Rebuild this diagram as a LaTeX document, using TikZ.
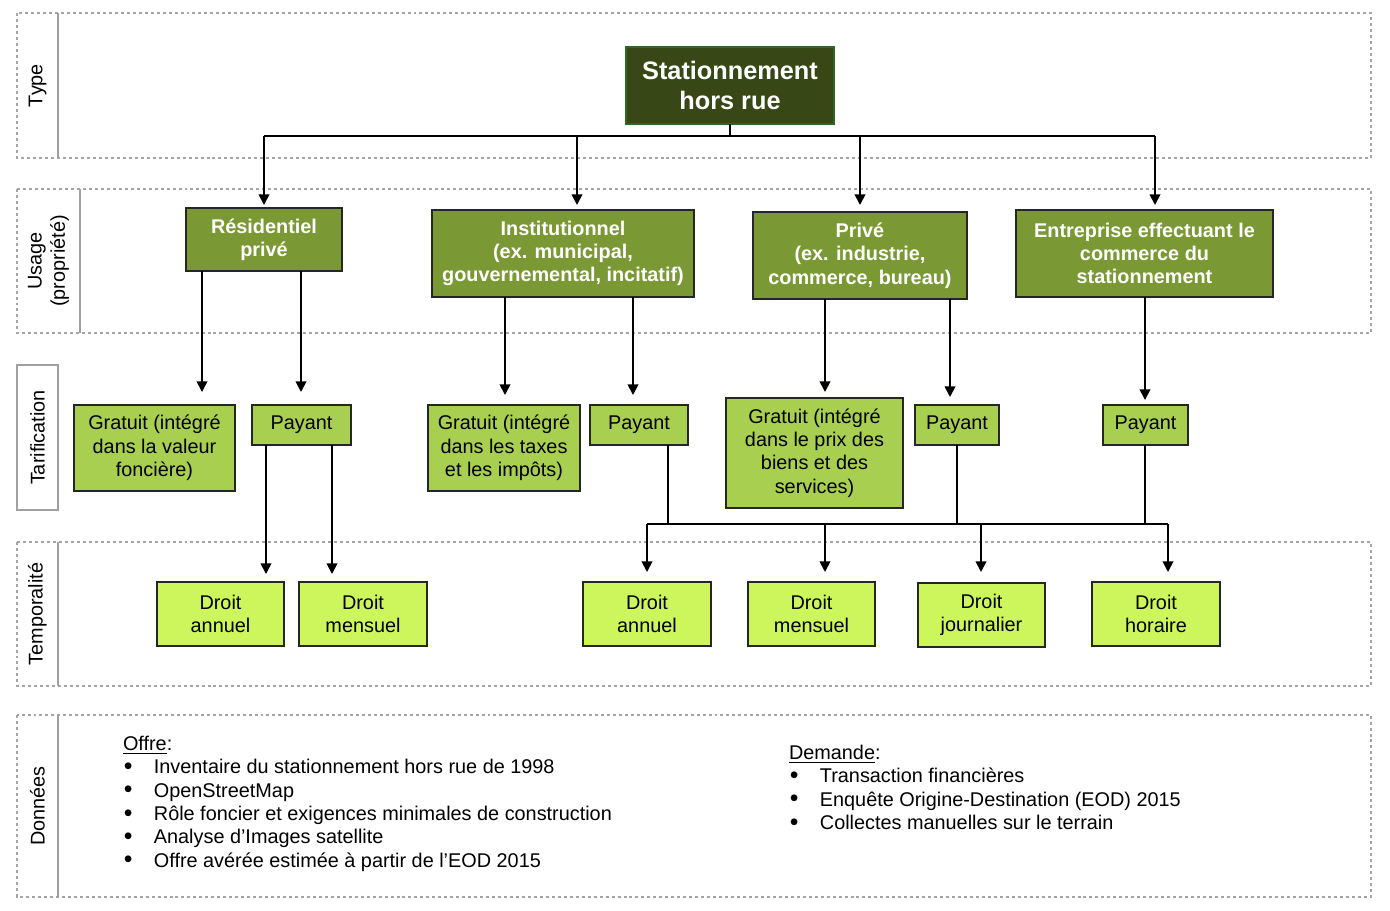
\documentclass[tikz,border=0pt]{standalone}
\usepackage{fontspec}
\setmainfont{Liberation Sans}
\usetikzlibrary{arrows.meta}
\definecolor{bandgray}{RGB}{165,165,165}
\definecolor{labgray}{RGB}{160,160,160}
\definecolor{topgreen}{RGB}{55,72,22}
\definecolor{topborder}{RGB}{45,105,35}
\definecolor{usegreen}{RGB}{122,153,52}
\definecolor{targreen}{RGB}{169,207,80}
\definecolor{drgreen}{RGB}{205,246,92}
\newcommand\myreg{\fontsize{11.3}{13.3}\selectfont}
\newcommand\mybold{\bfseries\fontsize{11.3}{13.3}\selectfont}
\newcommand\mytop{\bfseries\fontsize{14.4}{17}\selectfont}
\newcommand\mybul{\makebox[17.6pt][l]{\hspace{0.5pt}\smash{\raisebox{-0.3pt}{\scalebox{1.25}{•}}}}}
\begin{document}
\begin{tikzpicture}[x=0.02cm,y=-0.02cm,
  band/.style={draw=bandgray, line width=1.5pt, dash pattern=on 1.7pt off 1.7pt},
  labline/.style={draw=labgray, line width=1.1pt},
  lab/.style={rotate=90, inner sep=0pt, outer sep=0pt, font=\myreg, align=center},
  sz/.style 2 args={minimum width=#1*0.02cm, minimum height=#2*0.02cm},
  topbox/.style={draw=topborder, fill=topgreen, line width=1.1pt, text=white, font=\mytop, align=center, inner sep=0pt, outer sep=0pt},
  usebox/.style={draw=black!85, fill=usegreen, line width=1.1pt, text=white, font=\mybold, align=center, inner sep=0pt, outer sep=0pt},
  tarbox/.style={draw=black!85, fill=targreen, line width=1.1pt, font=\myreg, align=center, inner sep=0pt, outer sep=0pt},
  drbox/.style={draw=black!85, fill=drgreen, line width=1.1pt, font=\myreg, align=center, inner sep=0pt, outer sep=0pt},
  datatext/.style={font=\myreg, align=left, inner sep=0pt, outer sep=0pt},
  ln/.style={line width=1pt},
  arr/.style={line width=1pt, -{Triangle[width=6pt,length=6pt]}}
]
\useasboundingbox (0,0) rectangle (1390,910);

% bands
\draw[band] (17,13) rectangle (1371,158);
\draw[band] (17,189) rectangle (1371,333);
\draw[band] (17,542) rectangle (1371,686);
\draw[band] (17,715) rectangle (1371,897);

% band labels
\node[lab, sz={145}{41}] (ltype) at (37.5,85.5) {Type};
\node[lab, sz={144}{63}] (lusage) at (48.5,261) {Usage\\(propriété)};
\node[lab, sz={145}{41}, draw=labgray, line width=1.1pt] (ltarif) at (37.5,437.5) {Tarification};
\node[lab, sz={144}{41}] (ltemp) at (37.5,614) {Temporalité};
\node[lab, sz={182}{41}] (ldata) at (37.5,806) {Données};
\draw[labline] (ltype.south west) -- (ltype.south east);
\draw[labline] (lusage.south west) -- (lusage.south east);
\draw[labline] (ltemp.south west) -- (ltemp.south east);
\draw[labline] (ldata.south west) -- (ldata.south east);

% type
\node[topbox, sz={208}{77}] (top) at (730,85.5) {Stationnement\\hors rue};

% usage
\node[usebox, sz={156}{63}] (res) at (264,239.5) {Résidentiel\\privé};
\node[usebox, sz={262}{87}] (inst) at (563,253.5) {Institutionnel\\(ex. municipal,\\gouvernemental, incitatif)};
\node[usebox, sz={214}{87}] (prive) at (860,255.5) {Privé\\(ex. industrie,\\commerce, bureau)};
\node[usebox, sz={257}{87}] (entr) at (1144.5,253.5) {Entreprise effectuant le\\commerce du\\stationnement};

% tarification
\node[tarbox, sz={161}{86}] (g1) at (154.5,448) {Gratuit (intégré\\dans la valeur\\foncière)};
\node[tarbox, sz={99}{40}] (p1) at (301.5,425) {Payant};
\node[tarbox, sz={152}{86}] (g2) at (504,448) {Gratuit (intégré\\dans les taxes\\et les impôts)};
\node[tarbox, sz={98}{40}] (p2) at (639,425) {Payant};
\node[tarbox, sz={177}{110}] (g3) at (814.5,453) {Gratuit (intégré\\dans le prix des\\biens et des\\services)};
\node[tarbox, sz={84}{40}] (p3) at (957,425) {Payant};
\node[tarbox, sz={85}{40}] (p4) at (1145.5,425) {Payant};

% temporalite
\node[drbox, sz={127}{64}] (da1) at (220.5,614) {Droit\\annuel};
\node[drbox, sz={128}{64}] (dm1) at (363,614) {Droit\\mensuel};
\node[drbox, sz={128}{64}] (da2) at (647,614) {Droit\\annuel};
\node[drbox, sz={127}{64}] (dm2) at (811.5,614) {Droit\\mensuel};
\node[drbox, sz={127}{64}] (dj) at (981.5,615) {Droit\\journalier};
\node[drbox, sz={128}{64}] (dh) at (1156,614) {Droit\\horaire};

% connectors type -> usage
\coordinate (busL) at (264,136);
\coordinate (busR) at (1155,136);
\coordinate (b2) at (577,136);
\draw[ln] (top.south) -- (top.south |- busL);
\draw[ln] (busL) -- (busR);
\draw[arr, shorten >=0.06cm] (busL) -- (res.north);
\draw[arr, shorten >=0.1cm] (b2) -- (b2 |- inst.north);
\draw[arr, shorten >=0.14cm] (prive.north |- busL) -- (prive.north);
\draw[arr, shorten >=0.1cm] (busR) -- (busR |- entr.north);

% usage -> tarification
\coordinate (t1) at (202,392);
\coordinate (t2) at (301,392);
\coordinate (t3) at (505,395);
\coordinate (t4) at (633,395);
\coordinate (t5) at (825,392);
\coordinate (t6) at (950,397);
\coordinate (t7) at (1145,400);
\draw[arr] (res.south -| t1) -- (t1);
\draw[arr] (res.south -| t2) -- (t2);
\draw[arr] (inst.south -| t3) -- (t3);
\draw[arr] (inst.south -| t4) -- (t4);
\draw[arr] (prive.south -| t5) -- (t5);
\draw[arr] (prive.south -| t6) -- (t6);
\draw[arr] (entr.south -| t7) -- (t7);

% tarification -> temporalite
\coordinate (d1) at (266,574);
\coordinate (d2) at (332,574);
\draw[arr] (p1.south -| d1) -- (d1);
\draw[arr] (p1.south -| d2) -- (d2);
\coordinate (bus2L) at (647,524);
\coordinate (bus2R) at (1168,524);
\coordinate (k2) at (668,524);
\coordinate (k3) at (957,524);
\coordinate (k4) at (1145,524);
\coordinate (m2) at (825,524);
\coordinate (m3) at (981,524);
\draw[ln] (p2.south -| k2) -- (k2);
\draw[ln] (p3.south -| k3) -- (k3);
\draw[ln] (p4.south -| k4) -- (k4);
\draw[ln] (bus2L) -- (bus2R);
\draw[arr, shorten >=0.2cm] (bus2L) -- (bus2L |- da2.north);
\draw[arr, shorten >=0.2cm] (m2) -- (m2 |- dm2.north);
\draw[arr, shorten >=0.22cm] (m3) -- (m3 |- dj.north);
\draw[arr, shorten >=0.2cm] (bus2R) -- (bus2R |- dh.north);

% donnees
\node[datatext, anchor=north west] (offre) at (123,736) {\underline{Offre}:\\
\mybul Inventaire du stationnement hors rue de 1998\\
\mybul OpenStreetMap\\
\mybul Rôle foncier et exigences minimales de construction\\
\mybul Analyse d’Images satellite\\
\mybul Offre avérée estimée à partir de l’EOD 2015};
\node[datatext, anchor=north west] (demande) at (789,745) {\underline{Demande}:\\
\mybul Transaction financières\\
\mybul Enquête Origine-Destination (EOD) 2015\\
\mybul Collectes manuelles sur le terrain};
\end{tikzpicture}
\end{document}
